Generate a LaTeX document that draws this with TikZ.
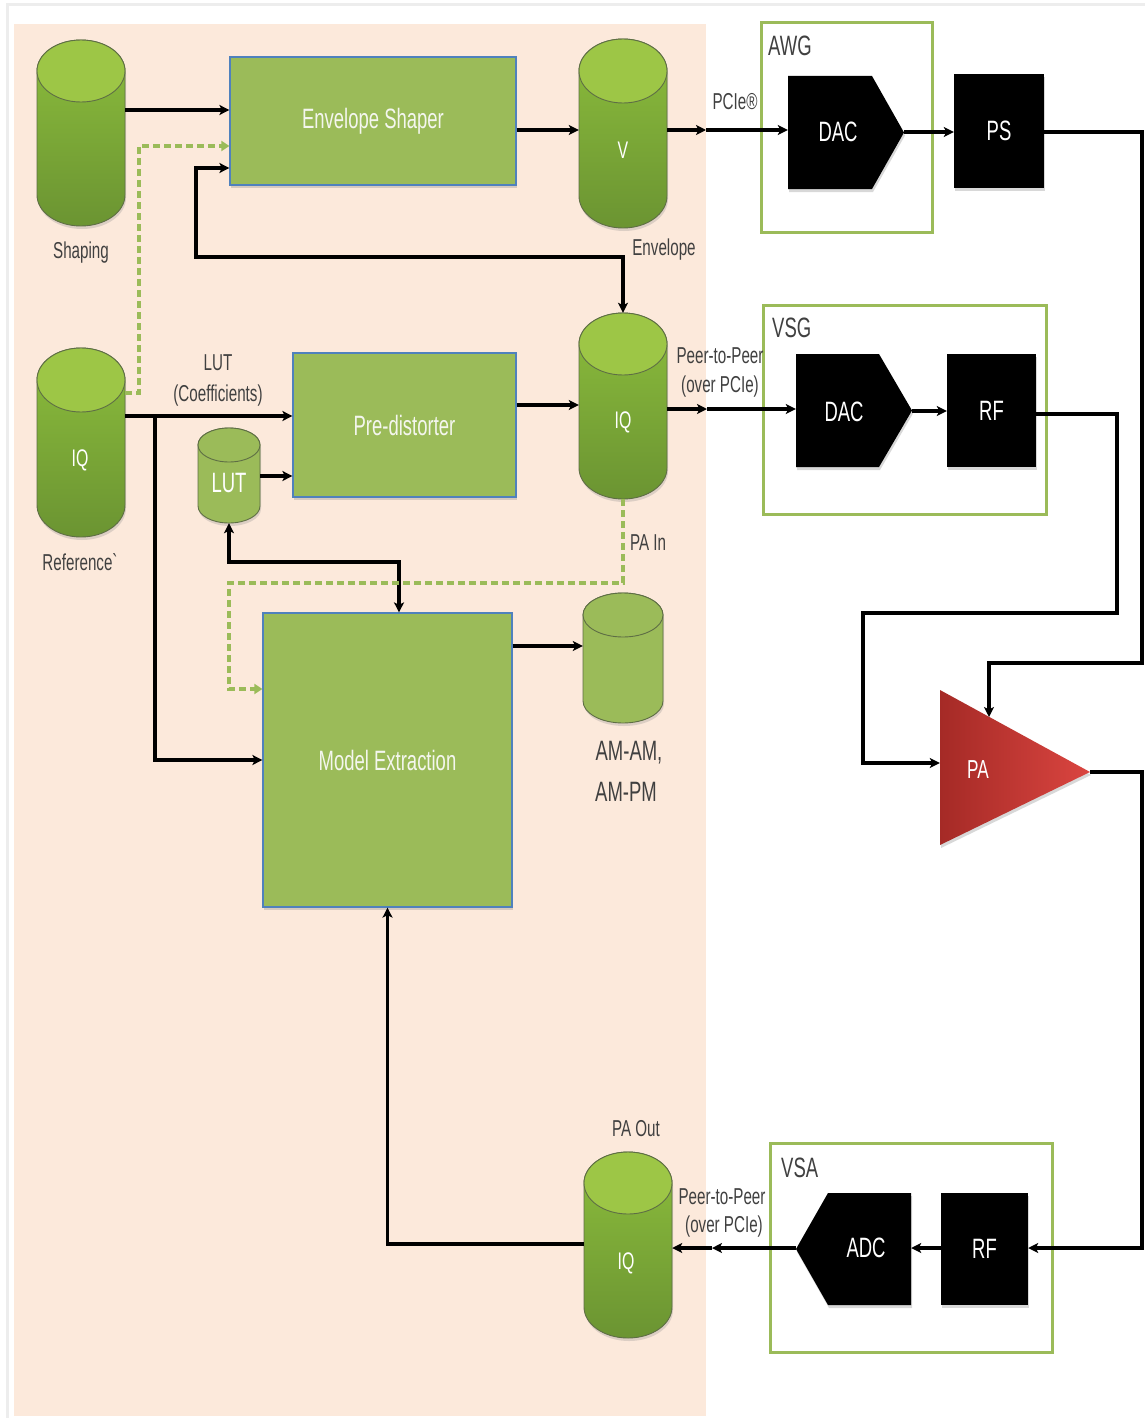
\documentclass[tikz,border=0pt]{standalone}
\usepackage{fontspec}
\setmainfont{Liberation Sans}[FakeStretch=0.66, Ligatures=TeXOff]
\usetikzlibrary{arrows.meta,shadows,calc}
\definecolor{peach}{HTML}{FCE9DB}
\definecolor{lgreen}{HTML}{9BBB59}
\definecolor{bblue}{HTML}{4F81BD}
\definecolor{txtgray}{HTML}{404040}
\definecolor{boxtxt}{HTML}{F4F6EE}
\definecolor{cyltop}{HTML}{9DC646}
\definecolor{cylA}{HTML}{8CBD3C}
\definecolor{cylB}{HTML}{6B9432}
\definecolor{cyledge}{HTML}{5E6E45}
\definecolor{paA}{HTML}{A52A26}
\definecolor{paB}{HTML}{DA4540}
\definecolor{framegray}{HTML}{EDEDED}

\newcommand\mycyl[7]{%
  \node[inner sep=0, minimum width={2*(#5)}, minimum height={(#4)-(#3)}] (#1) at ({#2},{-((#3)+(#4))/2}) {};
  \shade[#7, draw=cyledge, line width=0.9pt, drop shadow={shadow xshift=1pt, shadow yshift=-3pt, opacity=0.25}] ({#2-#5},{-#3-#6}) -- ({#2-#5},{-#4+#6})
    arc[start angle=180,end angle=360,x radius=#5,y radius=#6] -- ({#2+#5},{-#3-#6})
    arc[start angle=0,end angle=180,x radius=#5,y radius=#6] -- cycle;
}
\newcommand\mycyltop[5]{%
  \filldraw[fill=#5, draw=cyledge, line width=0.9pt] ({#1},{-#2-#4}) ellipse[x radius=#3,y radius=#4];
}

\begin{document}
\begin{tikzpicture}[x=1pt,y=1pt,
  arr/.style={line width=3.2pt, -{Stealth[length=10pt,width=10pt,inset=2.5pt]}},
  barr/.style={line width=3.2pt, {Stealth[length=10pt,width=10pt,inset=2.5pt]}-{Stealth[length=10pt,width=10pt,inset=2.5pt]}},
  garr/.style={draw=lgreen, line width=3.2pt, dash pattern=on 7pt off 4pt, -{Triangle[length=8pt,width=10pt]}},
  gbox/.style={fill=lgreen, draw=bblue, line width=1.2pt, text=boxtxt, font=\fontsize{28}{32}\selectfont, inner sep=0,
    drop shadow={shadow xshift=1pt, shadow yshift=-3pt, opacity=0.3}},
  bbox/.style={fill=black, text=white, font=\fontsize{28}{32}\selectfont, inner sep=0,
    drop shadow={shadow xshift=1pt, shadow yshift=-3pt, opacity=0.3}},
  hidden/.style={inner sep=0},
  frm/.style={draw=lgreen, line width=3pt},
  lbl/.style={text=txtgray, font=\fontsize{23}{26}\selectfont, inner sep=0},
  big/.style={text=txtgray, font=\fontsize{28}{32}\selectfont, inner sep=0},
  wtxt/.style={text=white, font=\fontsize{28}{32}\selectfont, inner sep=0},
]
\useasboundingbox (0,0) rectangle (1145,-1418);
\fill[white] (0,0) rectangle (1145,-1418);
% outer faint frame
\draw[framegray, line width=3pt] (7,-1418) -- (7,-5) -- (1145,-5);
% peach area
\fill[peach] (14,-24) rectangle (706,-1416);

% green instrument frames
\draw[frm] (761,-23) rectangle (932,-232);
\draw[frm] (763,-305) rectangle (1046,-514);
\draw[frm] (770,-1143) rectangle (1052,-1352);
\node[big, anchor=west] (awg) at (768,-46) {AWG};
\node[big, anchor=west] (vsg) at (772,-328) {VSG};
\node[big, anchor=west] (vsa) at (781,-1168) {VSA};

% cylinders
\mycyl{shaping}{81}{40}{226}{44}{31}{top color=cylA, bottom color=cylB}
\mycyltop{81}{40}{44}{31}{cyltop}
\mycyl{v}{623}{39}{228}{44}{32}{top color=cylA, bottom color=cylB}
\mycyltop{623}{39}{44}{32}{cyltop}
\mycyl{iqref}{81}{348}{537}{44}{32}{top color=cylA, bottom color=cylB}
\mycyltop{81}{348}{44}{32}{cyltop}
\mycyl{iqin}{623}{313}{499}{44}{31}{top color=cylA, bottom color=cylB}
\mycyltop{623}{313}{44}{31}{cyltop}
\mycyl{iqout}{628}{1152}{1338}{44}{31}{top color=cylA, bottom color=cylB}
\mycyltop{628}{1152}{44}{31}{cyltop}
\mycyl{lut}{229}{428}{523}{31}{17}{top color=lgreen, bottom color=lgreen}
\mycyltop{229}{428}{31}{17}{lgreen}
\mycyl{am}{623}{593}{723}{40}{22}{top color=lgreen, bottom color=lgreen}
\mycyltop{623}{593}{40}{22}{lgreen}

\node[wtxt, font=\fontsize{24}{28}\selectfont] (vt) at (623,-150) {V};
\node[wtxt, font=\fontsize{24}{28}\selectfont] (iqreft) at (80,-460) {IQ};
\node[wtxt, font=\fontsize{24}{28}\selectfont] (iqint) at (623,-422) {IQ};
\node[wtxt, font=\fontsize{24}{28}\selectfont] (iqoutt) at (626,-1263) {IQ};
\node[wtxt] (lutt) at (229,-483) {LUT};

% green processing boxes
\node[gbox, minimum width=286, minimum height=128] (es) at (373,-121) {Envelope Shaper};
\node[gbox, minimum width=223, minimum height=144] (pd) at (404.5,-425) {Pre-distorter};
\node[gbox, minimum width=249, minimum height=294] (me) at (387.5,-760) {Model Extraction};

% black hardware blocks
\fill[black, drop shadow={shadow xshift=1pt, shadow yshift=-3pt, opacity=0.3}] (788,-76) -- (872,-76) -- (904,-132.5) -- (872,-189) -- (788,-189) -- cycle;
\node[hidden, minimum width=116, minimum height=113] (dac1) at (846,-132.5) {};
\node[wtxt] (dac1t) at (838,-132) {DAC};
\node[bbox, minimum width=90, minimum height=114] (ps) at (999,-131) {PS};

\fill[black, drop shadow={shadow xshift=1pt, shadow yshift=-3pt, opacity=0.3}] (796,-354) -- (879,-354) -- (912,-410.5) -- (879,-467) -- (796,-467) -- cycle;
\node[hidden, minimum width=116, minimum height=113] (dac2) at (854,-410.5) {};
\node[wtxt] (dac2t) at (844,-412) {DAC};
\node[bbox, minimum width=89, minimum height=113] (rf1) at (991.5,-410.5) {RF};

\fill[black, drop shadow={shadow xshift=1pt, shadow yshift=-3pt, opacity=0.3}] (911,-1193) -- (828,-1193) -- (796,-1249) -- (828,-1305) -- (911,-1305) -- cycle;
\node[hidden, minimum width=115, minimum height=112] (adc) at (853.5,-1249) {};
\node[wtxt] (adct) at (866,-1248) {ADC};
\node[bbox, minimum width=87, minimum height=112] (rf2) at (984.5,-1249) {RF};

% PA triangle
\shade[left color=paA, right color=paB, drop shadow={shadow xshift=1pt, shadow yshift=-3pt, opacity=0.3}] (940,-690) -- (1090,-772) -- (940,-845) -- cycle;
\node[hidden, minimum width=150, minimum height=155] (pa) at (1015,-767.5) {};
\node[wtxt, font=\fontsize{26}{30}\selectfont] (pat) at (978,-770) {PA};
\coordinate (patop) at (989,-717);
\coordinate (patip) at (1090,-772);

% labels
\node[lbl] (shapingl) at (81,-253) {Shaping};
\node[lbl] (refl) at (80,-562) {Reference`};
\node[lbl] (envl) at (664,-250) {Envelope};
\node[lbl] (pciel) at (735,-102) {PCIe®};
\node[lbl] (lutl) at (218,-363) {LUT};
\node[lbl] (coefl) at (218,-396) {(Coefficients)};
\node[lbl] (p2p1) at (720,-356) {Peer-to-Peer};
\node[lbl] (ovr1) at (720,-387) {(over PCIe)};
\node[lbl] (pain) at (648,-543) {PA In};
\node[big] (amam) at (629,-753) {AM-AM,};
\node[big] (ampm) at (626,-792) {AM-PM};
\node[lbl] (paout) at (636,-1129) {PA Out};
\node[lbl] (p2p2) at (722,-1197) {Peer-to-Peer};
\node[lbl] (ovr2) at (724,-1227) {(over PCIe)};

% connectors
\draw[arr] (shaping.east |- 0,-110) -- (es.west |- 0,-110);
\draw[garr] (iqref.east |- 0,-393) -| (139,-146) -- (es.west |- 0,-146);
\draw[barr] (es.west |- 0,-168) -| (196,-257) -| (iqin.north);
\draw[arr] (es.east |- 0,-130) -- (v.west |- 0,-130);
\coordinate (m1) at (706,-130);
\draw[arr] (v.east |- 0,-130) -- (m1);
\draw[arr] (m1) -- (dac1.west |- 0,-130);
\draw[arr] (dac1.east |- 0,-132) -- (ps.west |- 0,-132);
\draw[arr] (ps.east |- 0,-132) -| (1142,-663) -| (patop);

\coordinate (j1) at (155,-416);
\draw[arr] (iqref.east |- 0,-416) -- (pd.west |- 0,-416);
\draw[arr] (j1) |- (me.west |- 0,-760);
\draw[arr] (lut.east |- 0,-476) -- (pd.west |- 0,-476);
\draw[barr] (lut.south) |- (399,-562) -- (me.north -| 399,0);

\draw[arr] (pd.east |- 0,-405) -- (iqin.west |- 0,-405);
\coordinate (m2) at (707,-409);
\draw[arr] (iqin.east |- 0,-409) -- (m2);
\draw[arr] (m2) -- (dac2.west |- 0,-409);
\draw[arr] (dac2.east |- 0,-411) -- (rf1.west |- 0,-411);
\draw[arr] (rf1.east |- 0,-414) -| (1117,-613) -| (863,-763) -- (pa.west |- 0,-763);

\draw[garr] (iqin.south) |- (229,-583) -- (229,-689) -- (me.west |- 0,-689);
\draw[arr] (me.east |- 0,-646) -- (am.west |- 0,-646);

\draw[arr] (patip) -| (1142,-1248) -- (rf2.east |- 0,-1248);
\draw[arr] (rf2.west |- 0,-1248) -- (adc.east |- 0,-1248);
\coordinate (m3) at (712,-1248);
\draw[arr] (adc.west |- 0,-1248) -- (m3);
\draw[arr] (m3) -- (iqout.east |- 0,-1248);
\draw[arr] (iqout.west |- 0,-1244) -| (me.south);
\end{tikzpicture}
\end{document}
